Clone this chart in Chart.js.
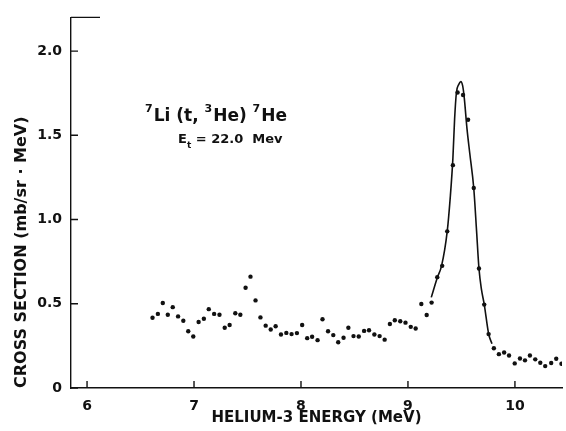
<!DOCTYPE html>
<html>
<head>
<meta charset="utf-8"/>
<style>
  body { margin: 0; padding: 0; background: #fff; }
  #container { width: 566px; height: 431px; position: relative; }
</style>
</head>
<body>
<div id="container"><canvas id="chart" width="566" height="431"></canvas></div>
<script src="https://cdn.jsdelivr.net/npm/chart.js@4/dist/chart.umd.min.js"></script>
<script>
// measured points, helium-3 energy (MeV) vs cross section (mb/sr.MeV)
var energy = [
  6.612, 6.662, 6.708, 6.755, 6.801, 6.851, 6.900, 6.946, 6.993, 7.043,
  7.092, 7.138, 7.188, 7.238, 7.287, 7.333, 7.386, 7.433, 7.482, 7.528,
  7.575, 7.621, 7.670, 7.717, 7.763, 7.813, 7.863, 7.912, 7.962, 8.011,
  8.058, 8.104, 8.155, 8.201, 8.253, 8.302, 8.348, 8.398, 8.443, 8.491,
  8.540, 8.590, 8.636, 8.686, 8.735, 8.782, 8.831, 8.877, 8.928, 8.977,
  9.026, 9.072, 9.125, 9.175, 9.221, 9.274, 9.320, 9.367, 9.420, 9.464,
  9.515, 9.562, 9.615, 9.664, 9.713, 9.754, 9.803, 9.850, 9.899, 9.945,
  9.998, 10.047, 10.094, 10.140, 10.190, 10.237, 10.283, 10.339, 10.386, 10.435
];
var crossSection = [
  0.417, 0.440, 0.505, 0.435, 0.480, 0.425, 0.399, 0.337, 0.306, 0.392,
  0.411, 0.468, 0.440, 0.435, 0.358, 0.374, 0.444, 0.435, 0.595, 0.661,
  0.520, 0.419, 0.370, 0.347, 0.367, 0.318, 0.327, 0.320, 0.326, 0.374,
  0.296, 0.304, 0.284, 0.408, 0.337, 0.314, 0.272, 0.298, 0.358, 0.308,
  0.306, 0.339, 0.343, 0.318, 0.308, 0.287, 0.380, 0.402, 0.396, 0.388,
  0.363, 0.353, 0.499, 0.433, 0.507, 0.658, 0.725, 0.930, 1.323, 1.754,
  1.739, 1.592, 1.187, 0.709, 0.495, 0.320, 0.236, 0.201, 0.211, 0.193,
  0.146, 0.175, 0.164, 0.193, 0.170, 0.150, 0.130, 0.148, 0.174, 0.144
];
// hand-drawn curve through the peak
var fitEnergy = [
  9.218, 9.274, 9.314, 9.367, 9.395, 9.420, 9.436, 9.453, 9.474, 9.494, 9.511,
  9.525, 9.552, 9.578, 9.615, 9.641, 9.664, 9.687, 9.713, 9.754, 9.785
];
var fitCrossSection = [
  0.538, 0.655, 0.725, 0.930, 1.129, 1.363, 1.596, 1.754, 1.801, 1.819, 1.795,
  1.731, 1.538, 1.392, 1.187, 0.936, 0.708, 0.585, 0.497, 0.322, 0.263
];
var xTicks = [6, 7, 8, 9, 10];
var yTicks = [0, 0.5, 1.0, 1.5, 2.0];

var INK = '#111';
var FONT = 'DejaVu Sans';

function pairs(xs, ys) {
  return xs.map(function(x, i) { return {x: x, y: ys[i]}; });
}

// tick marks point into the plot, plus the reaction label
var paperPlugin = {
  id: 'paper',
  afterDraw: function(chart) {
    var ctx = chart.ctx, a = chart.chartArea;
    var xs = chart.scales.x, ys = chart.scales.y;
    ctx.save();
    ctx.strokeStyle = INK;
    ctx.lineWidth = 1.4;
    ctx.beginPath();
    xs.ticks.forEach(function(t) {
      var px = xs.getPixelForValue(t.value);
      ctx.moveTo(px, a.bottom); ctx.lineTo(px, a.bottom - 7);
    });
    ys.ticks.forEach(function(t) {
      var py = ys.getPixelForValue(t.value);
      ctx.moveTo(a.left, py); ctx.lineTo(a.left + 7, py);
    });
    ctx.moveTo(a.left, a.top); ctx.lineTo(a.left + 29, a.top);
    ctx.stroke();

    ctx.fillStyle = INK;
    ctx.textBaseline = 'alphabetic';
    var x = 145, base = 121;
    var parts = [['7', 1], ['Li (t, ', 0], ['3', 1], ['He) ', 0], ['7', 1], ['He', 0]];
    parts.forEach(function(p) {
      ctx.font = p[1] ? 'bold 11px ' + FONT : 'bold 17px ' + FONT;
      ctx.fillText(p[0], x, p[1] ? base - 9 : base);
      x += ctx.measureText(p[0]).width + (p[1] ? 1 : 0);
    });
    x = 178; base = 143;
    ctx.font = 'bold 13px ' + FONT;
    ctx.fillText('E', x, base);
    x += ctx.measureText('E').width;
    ctx.font = 'bold 9px ' + FONT;
    ctx.fillText('t', x, base + 5);
    x += ctx.measureText('t').width;
    ctx.font = 'bold 13px ' + FONT;
    ctx.fillText(' = 22.0  Mev', x, base);
    ctx.restore();
  }
};

new Chart(document.getElementById('chart'), {
  type: 'scatter',
  data: {
    datasets: [{
      data: pairs(energy, crossSection),
      backgroundColor: INK,
      borderColor: INK,
      pointRadius: 2.2,
      pointBorderWidth: 0,
      showLine: false
    }, {
      data: pairs(fitEnergy, fitCrossSection),
      borderColor: INK,
      borderWidth: 1.6,
      pointRadius: 0,
      showLine: true,
      cubicInterpolationMode: 'monotone'
    }]
  },
  options: {
    responsive: false,
    animation: false,
    devicePixelRatio: 1,
    layout: { padding: { top: 12, right: 0, left: 0, bottom: 0 } },
    plugins: { legend: { display: false }, tooltip: { enabled: false } },
    scales: {
      x: {
        type: 'linear',
        min: 5.85,
        max: 10.44,
        afterFit: function(s) { s.height = 43; },
        afterBuildTicks: function(s) { s.ticks = xTicks.map(function(v) { return {value: v}; }); },
        grid: { display: false, drawTicks: false },
        border: { display: true, color: INK, width: 1.4 },
        ticks: {
          color: INK,
          padding: 10,
          font: { family: FONT, size: 14, weight: 'bold' },
          callback: function(v) { return String(v); }
        },
        title: {
          display: true,
          text: 'HELIUM-3 ENERGY (MeV)',
          color: INK,
          font: { family: FONT, size: 15, weight: 'bold' },
          padding: { top: 0, bottom: 4 }
        }
      },
      y: {
        type: 'linear',
        min: 0,
        max: 2.2,
        afterFit: function(s) { s.width = 71; },
        afterBuildTicks: function(s) { s.ticks = yTicks.map(function(v) { return {value: v}; }); },
        grid: { display: false, drawTicks: false },
        border: { display: true, color: INK, width: 1.4 },
        ticks: {
          color: INK,
          padding: 9,
          font: { family: FONT, size: 14, weight: 'bold' },
          callback: function(v) { return v === 0 ? '0' : v.toFixed(1); }
        },
        title: {
          display: true,
          text: 'CROSS SECTION (mb/sr \u00b7 MeV)',
          align: 'start',
          color: INK,
          font: { family: FONT, size: 16, weight: 'bold' },
          padding: { top: 12, bottom: 0 }
        }
      }
    }
  },
  plugins: [paperPlugin]
});
</script>
</body>
</html>
